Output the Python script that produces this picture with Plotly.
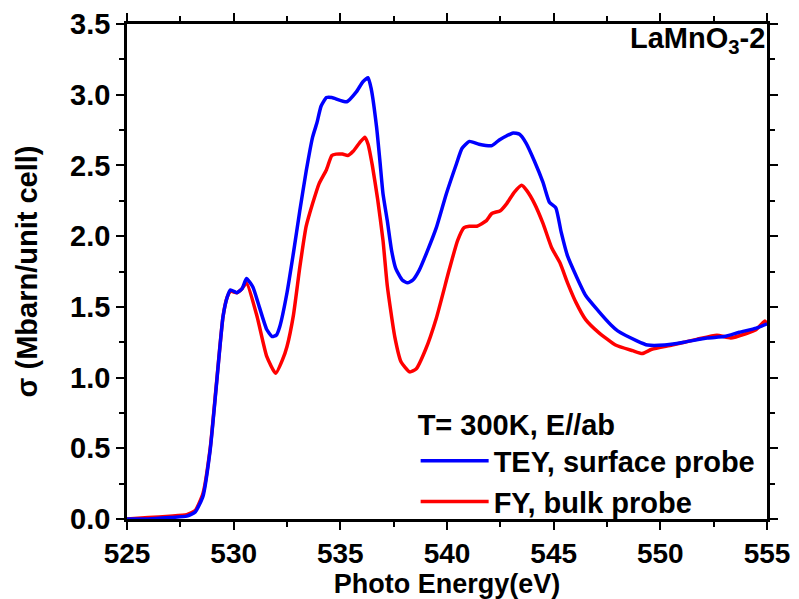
import plotly.graph_objects as go

# TEY (surface probe) data
E_tey = [525, 526, 527, 527.8, 528.2, 528.56, 528.9, 529.2, 529.5, 529.7, 529.85, 530.15, 530.4, 530.6,
         530.9, 531.2, 531.55, 531.8, 532.0, 532.16, 532.5, 532.8, 533.1, 533.4, 533.7, 533.9, 534.1,
         534.35, 534.6, 535.3, 535.75, 536.05, 536.3, 536.45, 536.7, 536.85, 537.0, 537.2, 537.4, 537.6,
         537.9, 538.15, 538.4, 538.7, 539.04, 539.5, 539.97, 540.44, 540.7, 541.05, 541.5, 542.1, 542.45,
         542.8, 543.1, 543.4, 543.7, 544.1, 544.5, 544.8, 545.1, 545.35, 545.65, 546.05, 546.5, 547.1,
         547.7, 548.0, 548.9, 549.4, 550.2, 551.1, 552.2, 553.0, 553.7, 554.5, 555]
TEY = [0.0, 0.0, 0.01, 0.02, 0.05, 0.16, 0.49, 0.96, 1.43, 1.57, 1.62, 1.60, 1.63, 1.70,
       1.64, 1.50, 1.34, 1.29, 1.30, 1.36, 1.60, 1.88, 2.18, 2.46, 2.70, 2.80, 2.92,
       2.98, 2.98, 2.95, 3.02, 3.09, 3.12, 3.04, 2.77, 2.54, 2.30, 2.11, 1.90, 1.77,
       1.69, 1.67, 1.69, 1.76, 1.88, 2.06, 2.30, 2.51, 2.62, 2.67, 2.65, 2.64, 2.68,
       2.71, 2.73, 2.72, 2.66, 2.53, 2.38, 2.24, 2.20, 2.03, 1.86, 1.72, 1.58, 1.47,
       1.37, 1.33, 1.26, 1.23, 1.23, 1.25, 1.28, 1.29, 1.32, 1.35, 1.38]

# FY (bulk probe) data
E_fy = [525, 526, 527, 527.8, 528.2, 528.56, 528.9, 529.2, 529.5, 529.7, 529.85, 530.15, 530.4, 530.6,
        531.1, 531.55, 531.97, 532.3, 532.5, 532.8, 533.1, 533.4, 533.7, 534.0, 534.35, 534.6, 534.8,
        535.1, 535.35, 535.6, 535.9, 536.15, 536.3, 536.5, 536.75, 537.0, 537.2, 537.55, 537.85, 538.25,
        538.55, 539.0, 539.5, 540.1, 540.5, 540.8, 541.05, 541.4, 541.85, 542.1, 542.5, 542.8, 543.15,
        543.5, 543.75, 544.1, 544.5, 544.9, 545.3, 545.65, 546.05, 546.5, 547.1, 547.9, 548.7, 549.15,
        549.6, 550.55, 551.7, 552.65, 553.3, 554.0, 554.5, 554.9, 555]
FY = [0.0, 0.01, 0.02, 0.03, 0.06, 0.18, 0.50, 0.97, 1.43, 1.57, 1.61, 1.60, 1.63, 1.67,
      1.43, 1.15, 1.03, 1.13, 1.22, 1.44, 1.78, 2.07, 2.23, 2.37, 2.47, 2.57, 2.58,
      2.58, 2.57, 2.60, 2.66, 2.70, 2.65, 2.50, 2.26, 1.97, 1.65, 1.29, 1.11, 1.04,
      1.06, 1.20, 1.42, 1.76, 1.97, 2.06, 2.07, 2.07, 2.11, 2.16, 2.18, 2.23, 2.31,
      2.36, 2.32, 2.23, 2.09, 1.92, 1.81, 1.67, 1.53, 1.41, 1.32, 1.23, 1.19, 1.17,
      1.20, 1.23, 1.27, 1.30, 1.28, 1.31, 1.34, 1.40, 1.38]

x_ticks = [525, 530, 535, 540, 545, 550, 555]
y_ticks = [0.0, 0.5, 1.0, 1.5, 2.0, 2.5, 3.0, 3.5]
y_ticklabels = ["0.0", "0.5", "1.0", "1.5", "2.0", "2.5", "3.0", "3.5"]

FONT = "Liberation Sans"

fig = go.Figure()
fig.add_trace(go.Scatter(x=E_fy, y=FY, mode="lines", name="FY, bulk probe",
                         line=dict(color="#ff0000", width=3.5, shape="spline", smoothing=0.5),
                         legendrank=2))
fig.add_trace(go.Scatter(x=E_tey, y=TEY, mode="lines", name="TEY, surface probe",
                         line=dict(color="#0000ff", width=3.5, shape="spline", smoothing=0.5),
                         legendrank=1))

axis_common = dict(showline=True, linecolor="black", linewidth=2.5, mirror="ticks",
                   ticks="outside", ticklen=8, tickwidth=2, tickcolor="black",
                   showgrid=False, zeroline=False, automargin=False)

fig.update_xaxes(range=[525, 555], tickvals=x_ticks, ticktext=[str(v) for v in x_ticks],
                 tickfont=dict(family=FONT, size=28, color="black", weight="bold"),
                 minor=dict(dtick=2.5, ticklen=5, tickwidth=2, tickcolor="black", ticks="outside"),
                 title=dict(text="Photo Energy(eV)", standoff=2,
                            font=dict(family=FONT, size=27, color="black", weight="bold")),
                 **axis_common)
fig.update_yaxes(range=[0, 3.5], tickvals=y_ticks, ticktext=y_ticklabels,
                 tickfont=dict(family=FONT, size=29, color="black", weight="bold"),
                 minor=dict(dtick=0.25, ticklen=5, tickwidth=2, tickcolor="black", ticks="outside"),
                 title=dict(text="σ (Mbarn/unit cell)", standoff=24,
                            font=dict(family=FONT, size=29, color="black", weight="bold")),
                 **axis_common)

fig.add_annotation(text="LaMnO<sub>3</sub>-2", xref="paper", yref="paper", x=1.0, y=1.008,
                   xanchor="right", yanchor="top", showarrow=False,
                   font=dict(family=FONT, size=29, color="black", weight="bold"))

fig.update_layout(
    width=799, height=599,
    margin=dict(l=127, r=32, t=24, b=80),
    plot_bgcolor="white", paper_bgcolor="white",
    showlegend=True,
    legend=dict(x=0.451, y=0.245, xanchor="left", yanchor="top",
                bgcolor="rgba(0,0,0,0)", borderwidth=0, itemwidth=68,
                title=dict(text="T= 300K, E//ab",
                           font=dict(family=FONT, size=29, color="black", weight="bold")),
                font=dict(family=FONT, size=29, color="black", weight="bold"),
                tracegroupgap=0),
)

fig.write_html("out.html")
